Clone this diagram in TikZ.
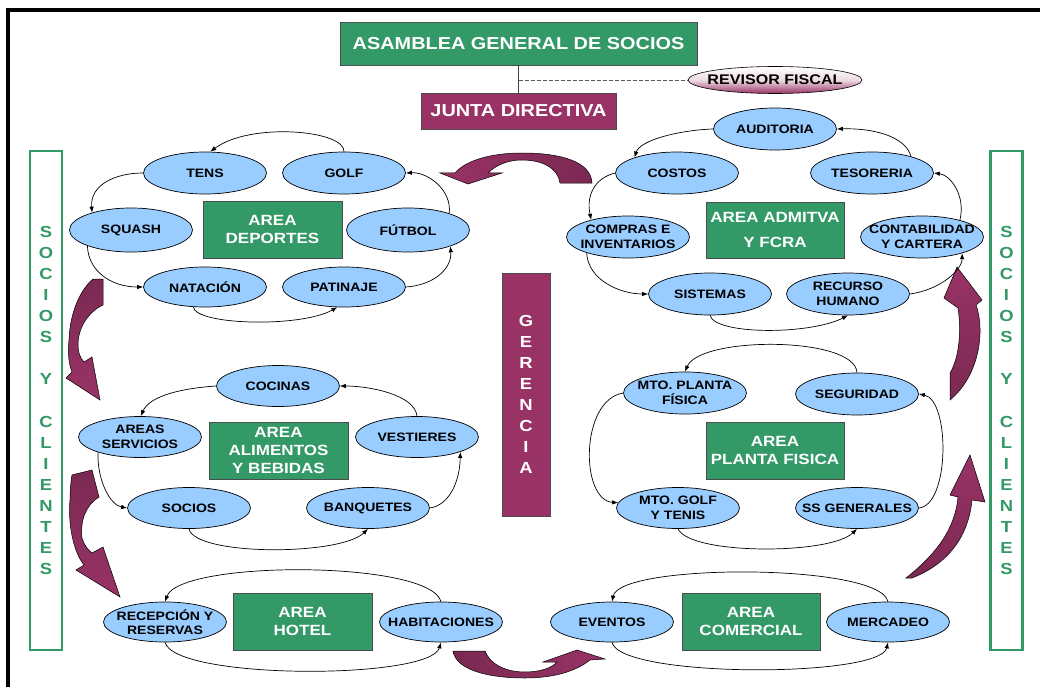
\documentclass[tikz,border=0pt]{standalone}
\usepackage{fontspec}
\setmainfont{Liberation Sans}[FakeStretch=1.15]
\usetikzlibrary{shapes.geometric,arrows.meta}
\definecolor{vgreen}{HTML}{339966}
\definecolor{maroonL}{HTML}{993366}
\definecolor{maroonD}{HTML}{7A2952}
\definecolor{lblue}{HTML}{99CCFF}
\begin{document}
\begin{tikzpicture}[x=1pt,y=-1pt,
  gbox/.style={draw=black!70, fill=vgreen, text=white, font=\bfseries\fontsize{14.8}{18}\selectfont, align=center, inner sep=0pt, line width=0.6pt},
  mbox/.style={draw=black!70, fill=maroonL, text=white, align=center, inner sep=0pt, line width=0.6pt},
  ell/.style={ellipse, draw=black, line width=0.7pt, fill=lblue, minimum width=123pt, minimum height=42pt, inner xsep=-14pt, inner ysep=-4pt, align=center, font=\bfseries\fontsize{12.2}{14.5}\selectfont},
  conn/.style={draw=black, line width=0.7pt, -{Latex[length=6pt,width=4.5pt]}},
  blockarrow/.style={draw=black, line width=0.5pt},
  sybox/.style={draw=vgreen, line width=2.5pt, fill=white, text=vgreen, align=center, inner sep=0pt, minimum width=32pt, minimum height=499pt, font=\bfseries\fontsize{16}{21.1}\selectfont},
]
\useasboundingbox (0,0) rectangle (1040,687);
\fill[white] (0,0) rectangle (1040,687);
\draw[line width=4pt] (1050,10) -- (8,10) -- (8,700);

% top
\node[gbox, minimum width=357pt, minimum height=43pt, font=\bfseries\fontsize{17.3}{20}\selectfont] (asamblea) at (518.5,43.5) {ASAMBLEA GENERAL DE SOCIOS};
\node[mbox, minimum width=195pt, minimum height=36pt, font=\bfseries\fontsize{17.3}{20}\selectfont] (junta) at (518.5,111) {JUNTA DIRECTIVA};
\node[ellipse, draw=black, line width=0.6pt, minimum width=174pt, minimum height=27pt, inner xsep=-10pt, inner ysep=0pt, top color=white, bottom color=maroonL, middle color=maroonL!18, font=\bfseries\fontsize{14}{16}\selectfont] (revisor) at (775,80) {REVISOR FISCAL};
\draw[line width=0.8pt, black!75] (asamblea.south) -- (junta.north);
\coordinate (jd) at (518.5,80);
\draw[line width=0.8pt, black!65, dash pattern=on 4pt off 2pt] (jd) -- (revisor.west);

% gerencia
\node[mbox, minimum width=48pt, minimum height=243pt, font=\bfseries\fontsize{16}{20.9}\selectfont] (gerencia) at (526,394.5) {G\\E\\R\\E\\N\\C\\I\\A};

% socios y clientes
\node[sybox] (syc1) at (46,400.5) {S\\O\\C\\I\\O\\S\\[21.1pt]Y\\[21.1pt]C\\L\\I\\E\\N\\T\\E\\S};
\node[sybox] (syc2) at (1006.5,400.5) {S\\O\\C\\I\\O\\S\\[21.1pt]Y\\[21.1pt]C\\L\\I\\E\\N\\T\\E\\S};

% block arrows
\path[blockarrow, left color=maroonL, right color=maroonD] (592,183) .. controls (591,162) and (562,153) .. (522,153) .. controls (492,153) and (466,160) .. (455,173) -- (440,173) -- (468,184) -- (502,173) -- (488,173) .. controls (496,165) and (508,160) .. (522,160) .. controls (542,160) and (558,168) .. (560,183) -- cycle;
\path[blockarrow, left color=maroonD, right color=maroonL] (453,651) -- (485,651) .. controls (490,664) and (505,672) .. (525,672) .. controls (540,672) and (552,668) .. (557,662) -- (543,662) -- (577,650) -- (605,659) -- (590,660) .. controls (575,672) and (552,678) .. (525,678) .. controls (488,678) and (456,670) .. (453,651) -- cycle;
\path[blockarrow, top color=maroonD, bottom color=maroonL] (93,279) -- (103,279) -- (103,305) .. controls (88,312) and (78,328) .. (78,345) .. controls (78,352) and (80,358) .. (84,362) -- (92,357) -- (100,400) -- (66,378) -- (72,372) .. controls (68,362) and (68,350) .. (69,340) .. controls (70,310) and (82,288) .. (93,279) -- cycle;
\path[blockarrow, top color=maroonD, bottom color=maroonL] (72,475) -- (92,470) -- (99,497) .. controls (86,505) and (80,520) .. (82,538) .. controls (84,545) and (88,550) .. (92,553) -- (103,547) -- (120,597) -- (76,570) -- (84,565) .. controls (72,550) and (68,520) .. (70,500) .. controls (70,490) and (71,480) .. (72,475) -- cycle;
\path[blockarrow, top color=maroonL, bottom color=maroonD] (906,578) .. controls (935,555) and (955,530) .. (958,497) -- (950,495) -- (970,455) -- (985,502) -- (972,500) .. controls (968,540) and (945,565) .. (912,578) -- cycle;
\path[blockarrow, top color=maroonL, bottom color=maroonD] (950,400) -- (950,373) .. controls (958,360) and (962,335) .. (958,308) -- (944,298) -- (957,267) -- (982,300) -- (976,305) .. controls (985,330) and (980,375) .. (950,400) -- cycle;

% deportes
\node[gbox, minimum width=139pt, minimum height=57pt] (dep) at (272.5,229.5) {AREA\\DEPORTES};
\node[ell] (tens) at (205,173) {TENS};
\node[ell] (golf) at (344,173) {GOLF};
\node[ell, minimum height=44pt] (squash) at (131,230) {SQUASH};
\node[ell, minimum height=44pt] (futbol) at (408,230) {FÚTBOL};
\node[ell, minimum height=40pt] (natacion) at (205,287) {NATACIÓN};
\node[ell, minimum height=40pt] (patinaje) at (344,287) {PATINAJE};
\draw[conn] (golf.north) .. controls (345,130) and (250,122) .. (tens.76);
\draw[conn] (tens.west) .. controls (115,173) and (90,185) .. (squash.156);
\draw[conn] (squash.200) .. controls (88,270) and (110,287) .. (natacion.west);
\draw[conn] (natacion.240) .. controls (195,325) and (300,328) .. (patinaje.252);
\draw[conn] (patinaje.east) .. controls (435,285) and (452,268) .. (futbol.339);
\draw[conn] (futbol.22) .. controls (452,190) and (428,172) .. (golf.east);

% admin
\node[gbox, minimum width=138pt, minimum height=56pt] (adm) at (775,230) {AREA ADMITVA\\[7pt]Y FCRA};
\node[ell] (auditoria) at (775,129) {AUDITORIA};
\node[ell] (costos) at (677,173) {COSTOS};
\node[ell] (tesoreria) at (872,173) {TESORERIA};
\node[ell] (compras) at (628,237) {COMPRAS E\\INVENTARIOS};
\node[ell] (contab) at (922,237) {CONTABILIDAD\\Y CARTERA};
\node[ell] (sistemas) at (710,294) {SISTEMAS};
\node[ell] (recurso) at (848,294) {RECURSO\\HUMANO};
\draw[conn] (auditoria.west) .. controls (680,130) and (640,140) .. (costos.160);
\draw[conn] (costos.west) .. controls (595,178) and (586,195) .. (compras.155);
\draw[conn] (compras.201) .. controls (588,280) and (620,294) .. (sistemas.west);
\draw[conn] (sistemas.south) .. controls (715,335) and (810,335) .. (recurso.south);
\draw[conn] (recurso.east) .. controls (940,290) and (962,270) .. (contab.338);
\draw[conn] (contab.24) .. controls (966,195) and (950,175) .. (tesoreria.east);
\draw[conn] (tesoreria.23) .. controls (905,135) and (870,128) .. (auditoria.east);

% alimentos
\node[gbox, minimum width=139pt, minimum height=57pt] (ali) at (278.5,450.5) {AREA\\ALIMENTOS\\Y BEBIDAS};
\node[ell, minimum height=41pt] (cocinas) at (278,386) {COCINAS};
\node[ell, minimum height=41pt] (areas) at (140,437) {AREAS\\SERVICIOS};
\node[ell, minimum height=41pt] (vestieres) at (417,437) {VESTIERES};
\node[ell, minimum height=41pt] (socios) at (189,508) {SOCIOS};
\node[ell, minimum height=41pt] (banquetes) at (368,508) {BANQUETES};
\draw[conn] (cocinas.west) .. controls (185,388) and (150,395) .. (areas.88);
\draw[conn] (areas.200) .. controls (97,480) and (110,505) .. (socios.west);
\draw[conn] (socios.south) .. controls (195,556) and (340,556) .. (banquetes.south);
\draw[conn] (banquetes.east) .. controls (450,505) and (460,480) .. (vestieres.341);
\draw[conn] (vestieres.north) .. controls (415,395) and (370,386) .. (cocinas.east);

% planta fisica
\node[gbox, minimum width=138pt, minimum height=57pt] (pla) at (775,450.5) {AREA\\PLANTA FISICA};
\node[ell] (mtoplanta) at (685,393) {MTO. PLANTA\\FÍSICA};
\node[ell] (seguridad) at (857,394) {SEGURIDAD};
\node[ell, minimum height=41pt] (mtogolf) at (678,508) {MTO. GOLF\\Y TENIS};
\node[ell, minimum height=41pt] (ssgen) at (857,508) {SS GENERALES};
\draw[conn] (seguridad.north) .. controls (855,336) and (700,336) .. (mtoplanta.north);
\draw[conn] (mtoplanta.west) .. controls (580,400) and (580,500) .. (mtogolf.175);
\draw[conn] (mtogolf.south) .. controls (690,555) and (830,555) .. (ssgen.south);
\draw[conn] (ssgen.east) .. controls (950,505) and (950,400) .. (seguridad.east);

% hotel
\node[gbox, minimum width=139pt, minimum height=57pt] (hot) at (302.5,621.5) {AREA\\HOTEL};
\node[ell, minimum height=40pt] (recepcion) at (165,622) {RECEPCIÓN Y\\RESERVAS};
\node[ell, minimum height=40pt] (habitaciones) at (441,622) {HABITACIONES};
\draw[conn] (habitaciones.north) .. controls (430,560) and (180,560) .. (recepcion.north);
\draw[conn] (recepcion.south) .. controls (175,680) and (430,680) .. (habitaciones.south);

% comercial
\node[gbox, minimum width=138pt, minimum height=57pt] (com) at (751,621.5) {AREA\\COMERCIAL};
\node[ell, minimum height=40pt] (eventos) at (612,622) {EVENTOS};
\node[ell, minimum height=40pt] (mercadeo) at (888,622) {MERCADEO};
\draw[conn] (mercadeo.north) .. controls (880,563) and (620,563) .. (eventos.north);
\draw[conn] (eventos.south) .. controls (620,678) and (880,678) .. (mercadeo.south);
\end{tikzpicture}
\end{document}
